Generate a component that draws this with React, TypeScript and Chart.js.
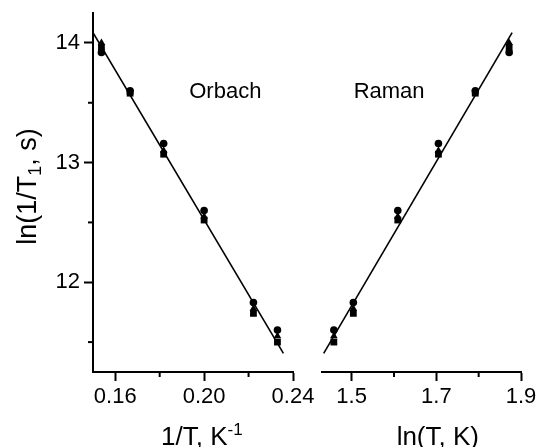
import React, { useEffect, useRef } from 'react';
import { Chart, registerables } from 'chart.js';

Chart.register(...registerables);

const FONT = '"Liberation Sans", Arial, Helvetica, sans-serif';

// ---- data ----
const inverseT = [0.1538, 0.1667, 0.1818, 0.2, 0.2222, 0.233];
const lnT = [1.872, 1.792, 1.705, 1.609, 1.504, 1.458];
const lnRateCircle = [13.92, 13.6, 13.16, 12.6, 11.83, 11.6];
const lnRateTriangle = [14.0, 13.59, 13.1, 12.55, 11.78, 11.55];
const lnRateSquare = [13.96, 13.58, 13.07, 12.52, 11.74, 11.5];
const orbachFitX = [0.15, 0.2357];
const orbachFitY = [14.086, 11.405];
const ramanFitX = [1.434, 1.879];
const ramanFitY = [11.405, 14.086];

const yRange = [11.25, 14.25];
const yMajorTicks = [12, 13, 14];
const yMinorTicks = [11.5, 12.5, 13.5];
const leftXRange = [0.15, 0.24];
const leftXMajorTicks = [0.16, 0.2, 0.24];
const leftXMinorTicks = [0.18, 0.22];
const rightXRange = [1.43, 1.9];
const rightXMajorTicks = [1.5, 1.7, 1.9];
const rightXMinorTicks = [1.6, 1.8];

const orbachLabel = { text: 'Orbach', x: 0.1933, y: 13.542 };
const ramanLabel = { text: 'Raman', x: 1.5047, y: 13.542 };

type Part = { t: string; mode?: 'sup' | 'sub' };
const leftXTitle: Part[] = [{ t: '1/T, K' }, { t: '-1', mode: 'sup' }];
const rightXTitle: Part[] = [{ t: 'ln(T, K)' }];
const yTitle: Part[] = [{ t: 'ln(1/T' }, { t: '1', mode: 'sub' }, { t: ', s)' }];
const leftXTitleAt = 0.199;
const rightXTitleAt = 1.7035;
const yTitleAt = 12.8;

function drawRich(ctx: CanvasRenderingContext2D, parts: Part[], x: number, y: number, size: number) {
  const widths = parts.map((p) => {
    ctx.font = `${p.mode ? Math.round(size * 0.66) : size}px ${FONT}`;
    return ctx.measureText(p.t).width;
  });
  const total = widths.reduce((a, b) => a + b, 0);
  let cx = x - total / 2;
  parts.forEach((p, i) => {
    ctx.font = `${p.mode ? Math.round(size * 0.66) : size}px ${FONT}`;
    const dy = p.mode === 'sup' ? -size * 0.4 : p.mode === 'sub' ? size * 0.2 : 0;
    ctx.fillText(p.t, cx, y + dy);
    cx += widths[i];
  });
}

function decorPlugin(spec: any) {
  return {
    id: 'decor' + spec.name,
    afterDraw(chart: any) {
      const { ctx, chartArea } = chart;
      const xs = chart.scales.x;
      const ys = chart.scales.y;
      ctx.save();
      ctx.strokeStyle = '#000';
      ctx.lineWidth = 2;
      spec.xMinor.forEach((v: number) => {
        const px = xs.getPixelForValue(v);
        ctx.beginPath();
        ctx.moveTo(px, chartArea.bottom);
        ctx.lineTo(px, chartArea.bottom + 5);
        ctx.stroke();
      });
      if (spec.yMinor) {
        spec.yMinor.forEach((v: number) => {
          const py = ys.getPixelForValue(v);
          ctx.beginPath();
          ctx.moveTo(chartArea.left, py);
          ctx.lineTo(chartArea.left - 5, py);
          ctx.stroke();
        });
      }
      ctx.fillStyle = '#000';
      ctx.textAlign = 'left';
      ctx.textBaseline = 'alphabetic';
      ctx.font = `22px ${FONT}`;
      ctx.fillText(spec.label.text, xs.getPixelForValue(spec.label.x), ys.getPixelForValue(spec.label.y));
      drawRich(ctx, spec.xTitle, xs.getPixelForValue(spec.xTitleAt), chartArea.bottom + 73, 26);
      if (spec.yTitle) {
        ctx.save();
        ctx.translate(chartArea.left - 57, ys.getPixelForValue(spec.yTitleAt));
        ctx.rotate(-Math.PI / 2);
        drawRich(ctx, spec.yTitle, 0, 0, 27);
        ctx.restore();
      }
      ctx.restore();
    },
  };
}

function scatterSets(xs: number[]) {
  const mk = (ys: number[], style: string, r: number) => ({
    data: xs.map((x, i) => ({ x, y: ys[i] })),
    pointStyle: style,
    pointRadius: r,
    pointHoverRadius: r,
    backgroundColor: '#000',
    borderColor: '#000',
    borderWidth: 0,
    showLine: false,
  });
  return [
    mk(lnRateSquare, 'rect', 4.8),
    mk(lnRateTriangle, 'triangle', 4.4),
    mk(lnRateCircle, 'circle', 3.8),
  ];
}

function fitSet(fx: number[], fy: number[]) {
  return {
    data: fx.map((x, i) => ({ x, y: fy[i] })),
    showLine: true,
    borderColor: '#000',
    borderWidth: 1.6,
    pointRadius: 0,
    pointHoverRadius: 0,
    fill: false,
  };
}

function axisX(range: number[], ticks: number[], digits: number) {
  return {
    type: 'linear',
    position: 'bottom',
    min: range[0],
    max: range[1],
    afterBuildTicks: (s: any) => {
      s.ticks = ticks.map((v) => ({ value: v }));
    },
    afterFit: (s: any) => {
      s.height = 75;
      s.paddingLeft = 0;
      s.paddingRight = 0;
    },
    ticks: {
      color: '#000',
      font: { family: FONT, size: 22 },
      padding: 3,
      maxRotation: 0,
      autoSkip: false,
      callback: (v: any) => Number(v).toFixed(digits),
    },
    grid: {
      display: true,
      drawOnChartArea: false,
      drawTicks: true,
      tickLength: 9,
      tickWidth: 2,
      tickColor: '#000',
    },
    border: { display: true, color: '#000', width: 2 },
  };
}

export default function App() {
  const leftRef = useRef<HTMLCanvasElement>(null);
  const rightRef = useRef<HTMLCanvasElement>(null);

  useEffect(() => {
    const left = new Chart(leftRef.current as HTMLCanvasElement, {
      type: 'scatter',
      data: {
        datasets: [fitSet(orbachFitX, orbachFitY), ...scatterSets(inverseT)] as any,
      },
      options: {
        responsive: false,
        animation: false,
        events: [],
        layout: { padding: { left: 0, right: 27, top: 13, bottom: 0 } },
        plugins: { legend: { display: false }, tooltip: { enabled: false } },
        scales: {
          x: axisX(leftXRange, leftXMajorTicks, 2) as any,
          y: {
            type: 'linear',
            min: yRange[0],
            max: yRange[1],
            afterBuildTicks: (s: any) => {
              s.ticks = yMajorTicks.map((v) => ({ value: v }));
            },
            afterFit: (s: any) => {
              s.width = 93;
              s.paddingTop = 0;
              s.paddingBottom = 0;
            },
            ticks: {
              color: '#000',
              font: { family: FONT, size: 22 },
              padding: 4,
              callback: (v: any) => String(v),
            },
            grid: {
              display: true,
              drawOnChartArea: false,
              drawTicks: true,
              tickLength: 9,
              tickWidth: 2,
              tickColor: '#000',
            },
            border: { display: true, color: '#000', width: 2 },
          },
        },
      },
      plugins: [
        decorPlugin({
          name: 'L',
          xMinor: leftXMinorTicks,
          yMinor: yMinorTicks,
          label: orbachLabel,
          xTitle: leftXTitle,
          xTitleAt: leftXTitleAt,
          yTitle,
          yTitleAt,
        }),
      ],
    });

    const right = new Chart(rightRef.current as HTMLCanvasElement, {
      type: 'scatter',
      data: {
        datasets: [fitSet(ramanFitX, ramanFitY), ...scatterSets(lnT)] as any,
      },
      options: {
        responsive: false,
        animation: false,
        events: [],
        layout: { padding: { left: 22, right: 19, top: 13, bottom: 0 } },
        plugins: { legend: { display: false }, tooltip: { enabled: false } },
        scales: {
          x: axisX(rightXRange, rightXMajorTicks, 1) as any,
          y: { type: 'linear', display: false, min: yRange[0], max: yRange[1] },
        },
      },
      plugins: [
        decorPlugin({
          name: 'R',
          xMinor: rightXMinorTicks,
          label: ramanLabel,
          xTitle: rightXTitle,
          xTitleAt: rightXTitleAt,
        }),
      ],
    });

    return () => {
      left.destroy();
      right.destroy();
    };
  }, []);

  return (
    <div
      style={{
        position: 'absolute',
        left: 0,
        top: 0,
        width: 538,
        height: 447,
        overflow: 'hidden',
        background: '#fff',
      }}
    >
      <canvas
        ref={leftRef}
        width={320}
        height={447}
        style={{ position: 'absolute', left: 0, top: 0, width: 320, height: 447 }}
      />
      <canvas
        ref={rightRef}
        width={240}
        height={447}
        style={{ position: 'absolute', left: 300, top: 0, width: 240, height: 447 }}
      />
    </div>
  );
}
